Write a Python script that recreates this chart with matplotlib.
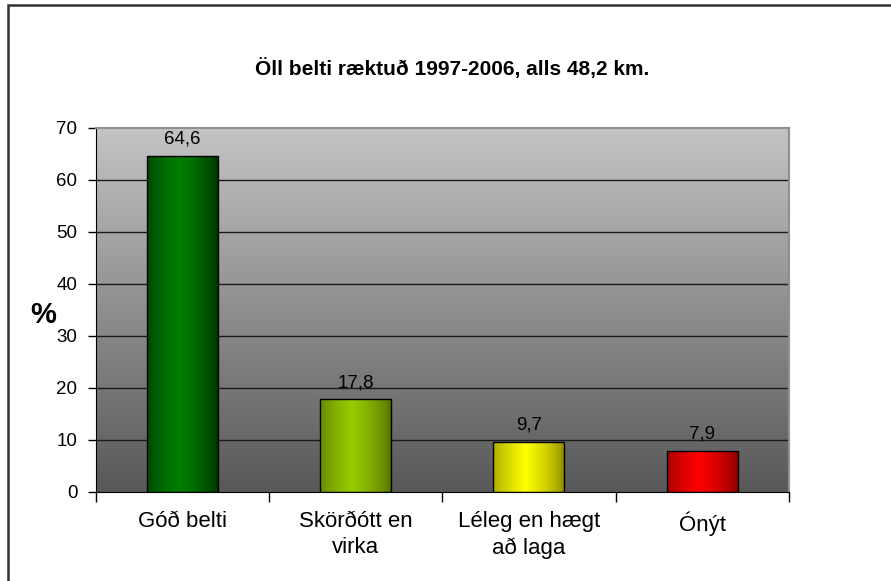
import matplotlib
matplotlib.use("Agg")
import matplotlib.pyplot as plt
import numpy as np
from matplotlib.patches import Rectangle
from matplotlib.colors import to_rgb

# gögn
CATEGORIES = ["Góð belti", "Skörðótt en\nvirka", "Léleg en hægt\nað laga", "Ónýt"]
VALUES = [64.6, 17.8, 9.7, 7.9]
BRIGHT = ["#008000", "#99cc00", "#ffff00", "#ff0000"]
DARK = ["#002800", "#4a6400", "#7a7a00", "#780000"]
TITLE = "Öll belti ræktuð 1997-2006, alls 48,2 km."
YTICKS = [0, 10, 20, 30, 40, 50, 60, 70]

plt.rcParams['font.family'] = ['Liberation Sans', 'DejaVu Sans']

fig = plt.figure(figsize=(8.91, 5.81), dpi=100)
fig.patch.set_facecolor("white")
ax = fig.add_axes([95.5 / 891, 1 - 492 / 581, (789 - 95.5) / 891, (492 - 128) / 581])

# ramminn utan um allt
fig.patches.append(Rectangle((8 / 891, -0.1), 1.2, 1 - 5 / 581 + 0.1, transform=fig.transFigure,
                             fill=False, edgecolor="#333333", linewidth=1.8, zorder=10))

x = np.arange(len(VALUES))
ax.set_xlim(-0.5, len(VALUES) - 0.5)
ax.set_ylim(0, 70)

# bakgrunnur: ljósgrár efst, dökkgrár neðst
grad = np.linspace(0, 1, 256).reshape(-1, 1)
top = np.array(to_rgb("#c4c4c4"))
bot = np.array(to_rgb("#585858"))
bg = top * (1 - grad[..., None]) + bot * grad[..., None]
ax.imshow(bg, extent=[0, 1, 0, 1], transform=ax.transAxes, aspect="auto", zorder=0)

for y in YTICKS[1:-1]:
    ax.axhline(y, color="#1a1a1a", linewidth=1.0, zorder=1)

bars = ax.bar(x, VALUES, width=0.41, facecolor="none", edgecolor="black", linewidth=1.0, zorder=3)

t = np.linspace(0, 1, 200)
prof = np.clip(1 - np.abs(t - 0.45) / 0.55, 0, 1) ** 0.6
for patch, bright, dark in zip(bars.patches, BRIGHT, DARK):
    b = np.array(to_rgb(bright))
    d = np.array(to_rgb(dark))
    img = d[None, None, :] * (1 - prof[None, :, None]) + b[None, None, :] * prof[None, :, None]
    x0, y0 = patch.get_x(), patch.get_y()
    im = ax.imshow(img, extent=[x0, x0 + patch.get_width(), y0, y0 + patch.get_height()],
                   aspect="auto", zorder=2, interpolation="bilinear")
    im.set_clip_path(patch)

ax.bar_label(bars, labels=[("%.1f" % v).replace(".", ",") for v in VALUES],
             padding=6, fontsize=13.5)

ax.set_xticks(x)
ax.set_xticklabels(CATEGORIES, fontsize=16, linespacing=1.3)
ax.set_xticks(np.arange(len(VALUES) + 1) - 0.5, minor=True)
ax.tick_params(axis="x", which="major", length=0, pad=14)
ax.tick_params(axis="x", which="minor", length=7, width=1, direction="out")
ax.set_yticks(YTICKS)
ax.tick_params(axis="y", length=6, width=1, direction="out", labelsize=13.5, pad=7)

for s in ["top", "right"]:
    ax.spines[s].set_color("#909090")
    ax.spines[s].set_linewidth(1.5)
ax.spines["left"].set_color("black")
ax.spines["bottom"].set_color("black")

ax.set_ylabel("%", fontsize=21, fontweight="bold", rotation=0, va="center")
ax.yaxis.set_label_coords(-0.076, 0.486)

fig.text(0.5075, 1 - 69 / 581, TITLE, ha="center", va="center", fontsize=15, fontweight="bold")

fig.savefig("out.png", dpi=100)
